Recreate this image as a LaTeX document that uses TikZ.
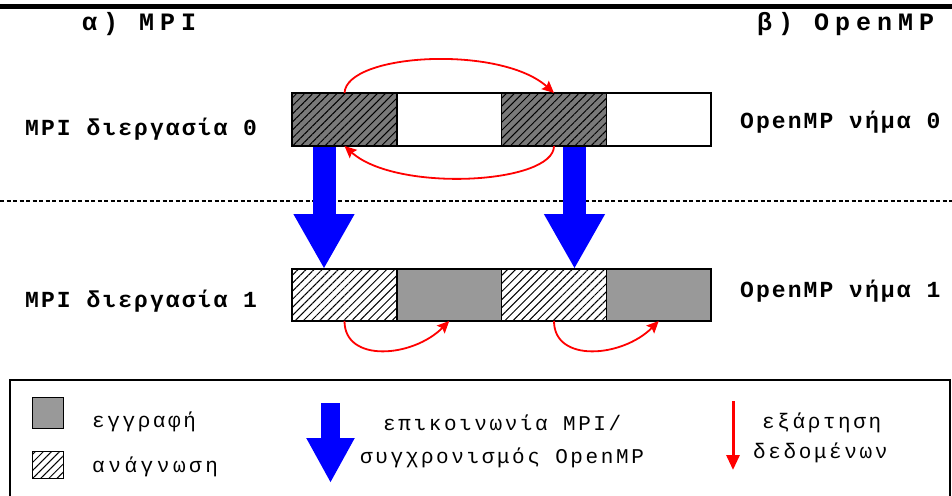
\documentclass[tikz,border=0pt]{standalone}
\usepackage{fontspec}
\newfontfamily\diagfont[LetterSpace=12.4]{Liberation Mono}
\newfontfamily\labelfont[LetterSpace=9]{Liberation Mono}
\newfontfamily\titlefont[LetterSpace=24]{Liberation Mono}
\newfontfamily\widefont[LetterSpace=17]{Liberation Mono}
\usetikzlibrary{arrows.meta, patterns.meta, positioning}
\definecolor{hatchgray}{HTML}{7A7A7A}
\definecolor{writegray}{HTML}{999999}
\tikzset{
  seg/.style = {draw=black, line width=1.5pt, minimum width=104.75pt, minimum height=53pt, inner sep=0pt, outer sep=0pt},
  hatch/.style = {pattern={Lines[angle=45, distance=5.7pt, line width=1pt]}, pattern color=black},
  wr/.style = {seg, fill=writegray},
  rd/.style = {seg, hatch},
  rdwr/.style = {seg, fill=hatchgray, postaction={hatch}},
  free/.style = {seg, fill=white},
  comm/.style = {draw=blue, line width=23pt, -{Triangle[length=55pt, width=57pt]}},
  dep/.style = {draw=red, line width=1.8pt, -{Stealth[length=12pt, width=11pt, inset=2pt]}},
  lbl/.style = {font=\labelfont\bfseries\fontsize{23}{27}\selectfont, anchor=base west, inner sep=0pt},
  ttl/.style = {font=\titlefont\bfseries\fontsize{25}{29}\selectfont, anchor=base west, inner sep=0pt},
  key/.style = {font=\diagfont\fontsize{21}{25}\selectfont, anchor=base west, inner sep=0pt}
}

\begin{document}
\begin{tikzpicture}[x=1pt, y=1pt]
\useasboundingbox (0,0) rectangle (952,-495);
\draw [line width=5pt] (0,-6.5) -- (952,-6.5);
\node [ttl] (tmpi) at (82,-31) {α) MPI};
\node [ttl] (tomp) at (757,-31) {β) OpenMP};
% process / thread labels
\node [lbl] (l0) at (25,-135) {MPI διεργασία 0};
\node [lbl] (l1) at (25,-307) {MPI διεργασία 1};
\node [lbl] (r0) at (740,-128) {OpenMP νήμα 0};
\node [lbl] (r1) at (740,-297) {OpenMP νήμα 1};
\draw [line width=1.5pt, dash pattern=on 4pt off 2.5pt] (0,-201) -- (952,-201);

% two rows of buffers
\node [rdwr] (p0a) at (344.5,-119.5) {};
\node [free, right=0pt of p0a] (p0b) {};
\node [rdwr, right=0pt of p0b] (p0c) {};
\node [free, right=0pt of p0c] (p0d) {};
\node [rd, minimum height=52pt] (p1a) at (344.5,-295) {};
\node [wr, minimum height=52pt, right=0pt of p1a] (p1b) {};
\node [rd, minimum height=52pt, right=0pt of p1b] (p1c) {};
\node [wr, minimum height=52pt, right=0pt of p1c] (p1d) {};

% MPI messages
\draw [comm] ([xshift=-20.5pt, yshift=-0.75pt]p0a.south) -- ([xshift=-20.5pt]p1a.north);
\draw [comm] ([xshift=20.5pt, yshift=-0.75pt]p0c.south) -- ([xshift=20.5pt]p1c.north);

% dependencies
\draw [dep] (p0a.north) to [out=87, in=138, out distance=40pt, in distance=72pt] (p0c.north);
\draw [dep] (p0c.south) to [out=-90, in=-42, out distance=38pt, in distance=70pt] (p0a.south);
\draw [dep] (p1a.south) to [out=-90, in=-135, out distance=42pt, in distance=52pt] (p1b.south);
\draw [dep] (p1c.south) to [out=-90, in=-135, out distance=42pt, in distance=52pt] (p1d.south);

% legend
\draw [line width=2pt] (10,-380) rectangle (950,-530);
\node [wr, line width=1pt, minimum width=31pt, minimum height=31pt] (kwr) at (47.5,-412.5) {};
\node [rd, line width=1pt, minimum width=31pt, minimum height=27pt] (krd) at (47.5,-465) {};
\node [key] (twr) at (92,-427) {εγγραφή};
\node [key, font=\widefont\fontsize{21}{25}\selectfont] (trd) at (92,-472) {ανάγνωση};
\coordinate (kc0) at (330.5,-403);
\coordinate (kc1) at (330.5,-483);
\draw [draw=blue, line width=19pt, -{Triangle[length=45pt, width=45pt]}] (kc0) -- (kc1);
\node [key] (tc0) at (383,-430) {επικοινωνία MPI/};
\node [key] (tc1) at (360,-463) {συγχρονισμός OpenMP};
\coordinate (kd0) at (733,-401);
\coordinate (kd1) at (733,-470);
\draw [draw=red, line width=3pt, -{Triangle[length=15pt, width=13pt]}] (kd0) -- (kd1);
\node [key] (td0) at (762,-428) {εξάρτηση};
\node [key] (td1) at (753,-458) {δεδομένων};
\end{tikzpicture}
\end{document}
